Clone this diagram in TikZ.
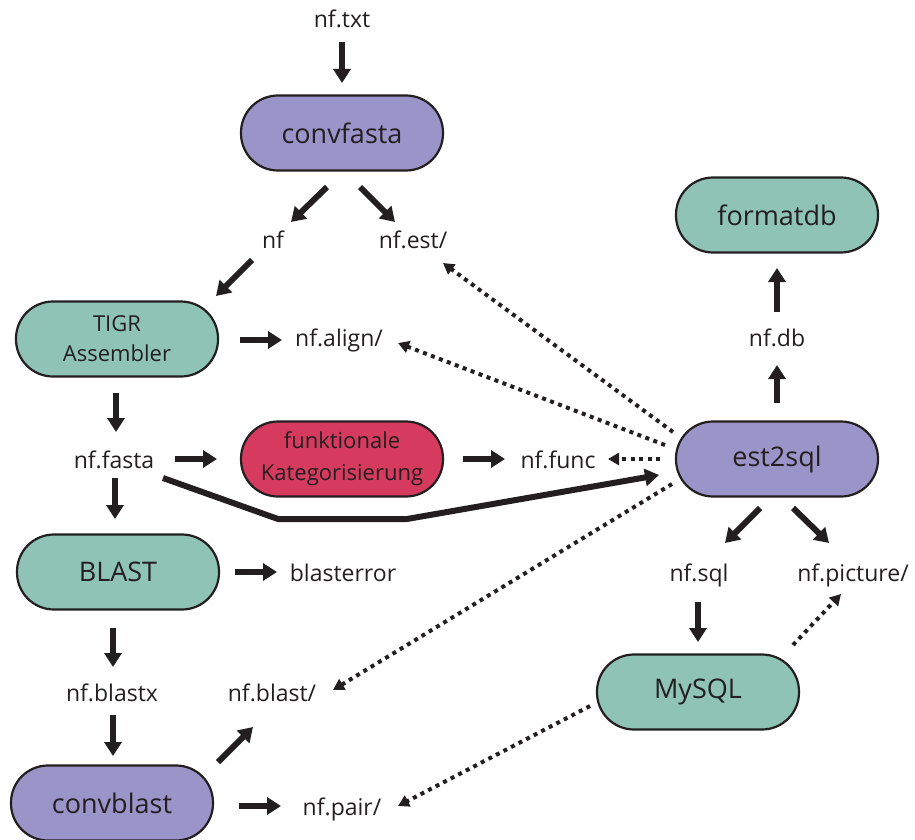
\documentclass[tikz,border=0pt]{standalone}
\usepackage{fontspec}
\setmainfont{Open Sans}
\usetikzlibrary{arrows.meta,calc}
\definecolor{ink}{HTML}{231F20}
\definecolor{lavbox}{HTML}{9B94C8}
\definecolor{tealbox}{HTML}{8FC3B6}
\definecolor{redbox}{HTML}{D63A5E}
\tikzset{
  proc/.style={draw=ink, line width=2.2pt, rounded corners=37pt, minimum width=202pt,
    minimum height=75pt, inner sep=0pt, text=ink, align=center,
    font=\fontsize{27}{32}\selectfont},
  proctwo/.style={proc, font=\fontsize{22}{30}\selectfont},
  file/.style={inner sep=0pt, text=ink, text height=17pt, text depth=5pt,
    font=\fontsize{23}{28}\selectfont},
  arr/.style={draw=ink, line width=6pt, -{Triangle[length=14pt,width=17pt]}},
  dotarr/.style={draw=ink, line width=4pt, dash pattern=on 4pt off 4.5pt,
    -{Triangle[length=11pt,width=12pt]}},
}
\begin{document}
\begin{tikzpicture}[x=1pt,y=-1pt]
\useasboundingbox (0,0) rectangle (915,840);
% nodes
\node[file] (nftxt) at (342,22) {nf.txt};
\node[proc, fill=lavbox] (cf) at (342,133) {convfasta};
\node[file] (nf) at (273,242) {nf};
\node[file] (nfest) at (413,242) {nf.est/};
\node[proc, fill=tealbox] (formatdb) at (777,215) {formatdb};
\node[proctwo, fill=tealbox] (tigr) at (117,339) {TIGR\\Assembler};
\node[file] (nfalign) at (339,340) {nf.align/};
\node[file] (nfdb) at (777,340) {nf.db};
\node[file] (nffasta) at (114,462) {nf.fasta};
\node[proctwo, fill=redbox, font=\fontsize{22}{32}\selectfont] (funk) at (342,459) {funktionale\\Kategorisierung};
\node[file] (nffunc) at (558,462) {nf.func};
\node[proc, fill=lavbox] (est) at (777,459) {est2sql};
\node[proc, fill=tealbox] (blast) at (118,572) {BLAST};
\node[file] (blasterror) at (343,575) {blasterror};
\node[file] (nfsql) at (699,575) {nf.sql};
\node[file] (nfpicture) at (853,575) {nf.picture/};
\node[file] (nfblastx) at (112,695) {nf.blastx};
\node[file] (nfblast) at (272,695) {nf.blast/};
\node[proc, fill=tealbox] (mysql) at (698,692) {MySQL};
\node[proc, fill=lavbox] (convblast) at (112,803) {convblast};
\node[file] (nfpair) at (342,809) {nf.pair/};
% solid arrows
\draw[arr] ($(nftxt)+(0,20)$) -- ($(cf)+(0,-50)$);
\draw[arr] ($(cf)+(-15,54)$) -- ($(nf)+(18,-20)$);
\draw[arr] ($(cf)+(18,54)$) -- ($(nfest)+(-18,-20)$);
\draw[arr] ($(nf)+(-21,18)$) -- ($(tigr)+(99,-43)$);
\draw[arr] ($(tigr)+(123,1)$) -- ($(nfalign)+(-57,0)$);
\draw[arr] ($(tigr)+(-1,54)$) -- ($(nffasta)+(2,-30)$);
\draw[arr] ($(nffasta)+(61,-3)$) -- ($(funk)+(-125,0)$);
\draw[arr] ($(funk)+(121,0)$) -- ($(nffunc)+(-53,-3)$);
\draw[arr] ($(nffasta)+(49,16)$) -- ($(funk)+(-64,60)$) -- ($(funk)+(65,60)$) -- ($(est)+(-118,16)$);
\draw[arr] ($(nffasta)+(1,16)$) -- ($(blast)+(-3,-53)$);
\draw[arr] ($(blast)+(117,0)$) -- ($(blasterror)+(-66,-3)$);
\draw[arr] ($(blast)+(-5,56)$) -- ($(nfblastx)+(1,-28)$);
\draw[arr] ($(nfblastx)+(1,20)$) -- ($(convblast)+(1,-47)$);
\draw[arr] ($(convblast)+(106,-41)$) -- ($(nfblast)+(-19,32)$);
\draw[arr] ($(convblast)+(127,3)$) -- ($(nfpair)+(-61,-3)$);
\draw[arr] ($(nfsql)+(-1,27)$) -- ($(mysql)+(0,-50)$);
\draw[arr] ($(est)+(-17,49)$) -- ($(nfsql)+(26,-32)$);
\draw[arr] ($(est)+(16,49)$) -- ($(nfpicture)+(-24,-32)$);
\draw[arr] ($(est)+(0,-56)$) -- ($(nfdb)+(0,25)$);
\draw[arr] ($(nfdb)+(0,-28)$) -- ($(formatdb)+(0,53)$);
% dotted arrows
\draw[dotarr] ($(est)+(-117,0)$) -- ($(nffunc)+(50,-3)$);
\draw[dotarr] ($(mysql)+(-108,14)$) -- ($(nfpair)+(56,-3)$);
\draw[dotarr] ($(mysql)+(95,-47)$) -- ($(nfpicture)+(-12,19)$);
\draw[dotarr] ($(est)+(-105,25)$) -- ($(nfblast)+(61,-5)$);
\draw[dotarr] ($(est)+(-112,-14)$) -- ($(nfalign)+(59,3)$);
\draw[dotarr] ($(est)+(-104,-27)$) -- ($(nfest)+(30,21)$);
\end{tikzpicture}
\end{document}
